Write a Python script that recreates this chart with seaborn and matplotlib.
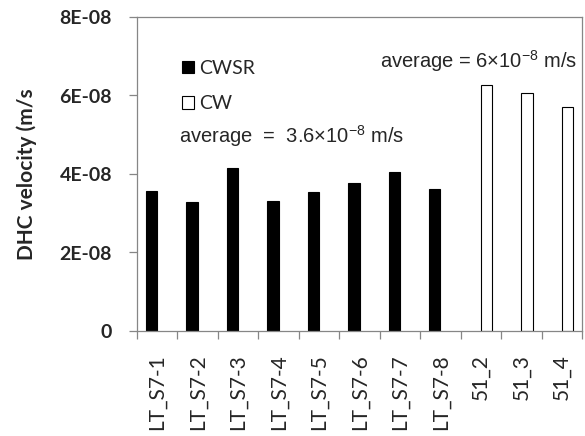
import numpy as np
import pandas as pd
import matplotlib
matplotlib.use("Agg")
import matplotlib.pyplot as plt
import seaborn as sns

# samples and DHC velocities (m/s)
cwsr_samples = ["LT_S7-1", "LT_S7-2", "LT_S7-3", "LT_S7-4",
                "LT_S7-5", "LT_S7-6", "LT_S7-7", "LT_S7-8"]
cwsr_values = [3.57e-8, 3.28e-8, 4.16e-8, 3.31e-8,
               3.53e-8, 3.77e-8, 4.05e-8, 3.63e-8]
cw_samples = ["51_2", "51_3", "51_4"]
cw_values = [6.26e-8, 6.07e-8, 5.71e-8]
series_names = ["CWSR", "CW"]
ytick_values = [0, 2e-8, 4e-8, 6e-8, 8e-8]
ytick_labels = ["0", "2E-08", "4E-08", "6E-08", "8E-08"]

df = pd.DataFrame({
    "sample": cwsr_samples + cw_samples,
    "series": ["CWSR"] * len(cwsr_samples) + ["CW"] * len(cw_samples),
    "value": cwsr_values + cw_values,
})
order = cwsr_samples + cw_samples

sns.set_style("white")
plt.rcParams["font.family"] = ["Lato", "DejaVu Sans"]
plt.rcParams["mathtext.fontset"] = "custom"
plt.rcParams["mathtext.rm"] = "Liberation Sans"

W, H = 585, 436
fig = plt.figure(figsize=(W / 100, H / 100), dpi=100)
ax = fig.add_axes([137 / W, 1 - 331 / H, (582 - 137) / W, (331 - 17) / H])

# excel-style clustered bars: each sample keeps a slot for both series
sns.barplot(data=df, x="sample", y="value", hue="series", order=order,
            hue_order=series_names, palette={"CWSR": "black", "CW": "white"},
            edgecolor="black", linewidth=0.8, width=0.56, dodge=True,
            errorbar=None, legend=False, ax=ax)

grey = "#868686"
for s in ax.spines.values():
    s.set_color(grey)
    s.set_linewidth(0.9)

n = len(order)
ax.set_xlim(-0.5, n - 0.5)
ax.set_ylim(0, 8e-8)
ax.set_xticks(np.arange(-0.5, n, 1))
ax.set_xticklabels([""] * (n + 1))
ax.set_xticks(np.arange(n), minor=True)
ax.set_xticklabels(order, minor=True, rotation=90, fontsize=15)
ax.tick_params(axis="x", which="major", length=6, width=0.9, color=grey,
               direction="out", bottom=True)
ax.tick_params(axis="x", which="minor", length=0, pad=17)
ax.set_yticks(ytick_values)
ax.set_yticklabels(ytick_labels, fontsize=14, fontweight="bold")
ax.tick_params(axis="y", length=6, width=0.9, color=grey, direction="out",
               left=True, pad=12)
ax.set_xlabel("")
ax.set_ylabel("DHC velocity (m/s", fontsize=15, fontweight="bold", labelpad=16)
ax.grid(False)

ax.legend(ax.containers, series_names, loc="upper left",
          bbox_to_anchor=(172 / W, 1 - 50 / H), bbox_transform=fig.transFigure,
          frameon=False, fontsize=14, borderpad=0, handlelength=0.62,
          handleheight=0.62, handletextpad=0.3, labelspacing=0.95)

fig.text(179 / W, 1 - 143 / H, r"average  =  3.6$\times$10$^{-8}$ m/s",
         fontsize=14.5, family="Liberation Sans", ha="left", va="baseline")
fig.text(577 / W, 1 - 68 / H, r"average = 6$\times$10$^{-8}$ m/s",
         fontsize=14.5, family="Liberation Sans", ha="right", va="baseline")

fig.savefig("out.png", dpi=100)
